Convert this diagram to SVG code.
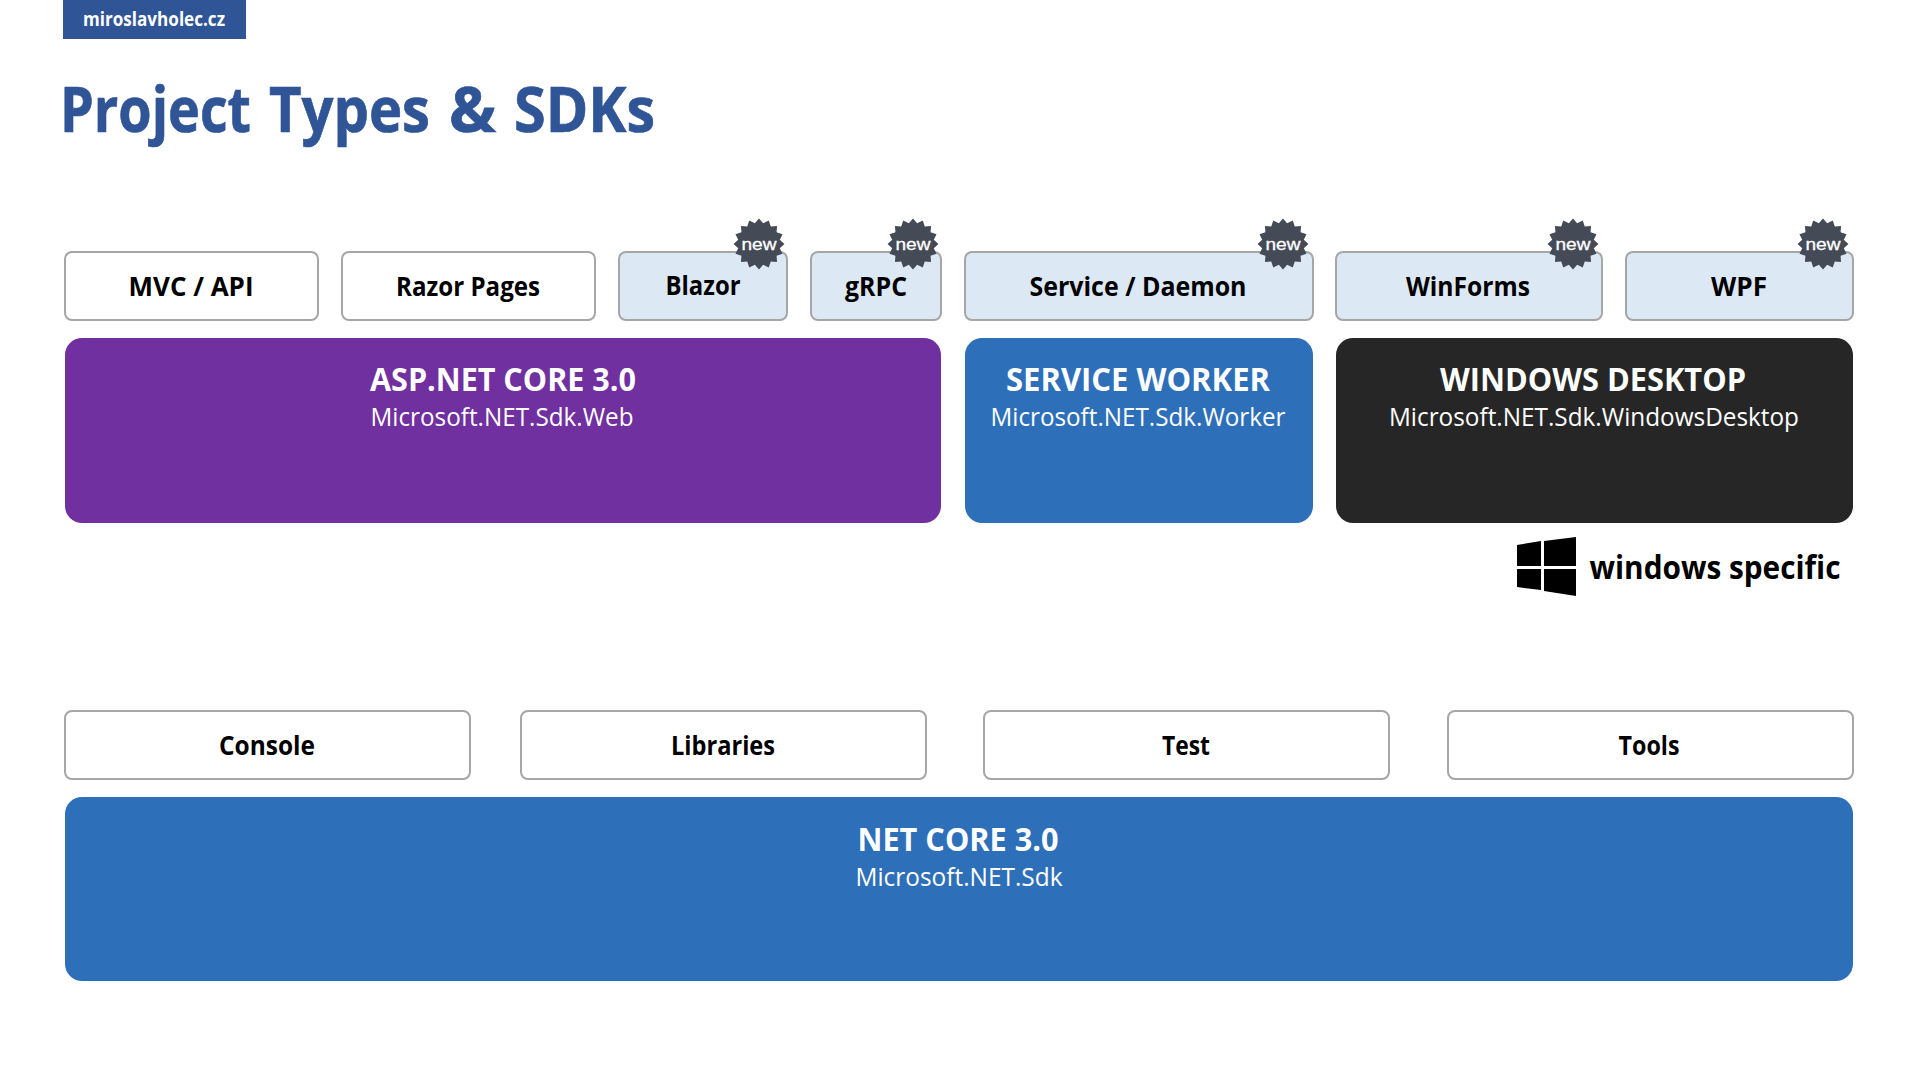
<svg xmlns="http://www.w3.org/2000/svg" width="1920" height="1080" viewBox="0 0 1920 1080">
<style>
text{font-family:"Open Sans","Noto Sans",sans-serif;font-weight:700;text-anchor:middle}
.b{fill:#fff;stroke:#a6a6a6;stroke-width:2}
.n{fill:#dde8f5;stroke:#a6a6a6;stroke-width:2}
.l{font-size:27px;fill:#000}
.s{font-size:27px;fill:#000}
.h{font-size:33px;fill:#fff}
.u{font-size:26px;fill:#fff;font-weight:500}
.w{font-size:17px;fill:#fff;stroke:#fff;stroke-width:.3;font-weight:400;font-family:"Liberation Sans",sans-serif}
.st{fill:#454a57}
.t{font-size:62px;fill:#2f5597;stroke:#2f5597;stroke-width:.7;text-anchor:start}
</style>
<defs>
<polygon id="star" class="st" transform="scale(1.06)" points="24,0 19.6,3.9 22.2,9.2 16.6,11.1 17,17 11.1,16.6 9.2,22.2 3.9,19.6 0,24 -3.9,19.6 -9.2,22.2 -11.1,16.6 -17,17 -16.6,11.1 -22.2,9.2 -19.6,3.9 -24,0 -19.6,-3.9 -22.2,-9.2 -16.6,-11.1 -17,-17 -11.1,-16.6 -9.2,-22.2 -3.9,-19.6 0,-24 3.9,-19.6 9.2,-22.2 11.1,-16.6 17,-17 16.6,-11.1 22.2,-9.2 19.6,-3.9"/>
</defs>
<rect width="1920" height="1080" fill="#fff"/>
<g id="header"><rect x="63" y="0" width="183" height="39" fill="#2f5597"/>
<text x="154" y="26" font-size="20" fill="#fff" textLength="142" lengthAdjust="spacingAndGlyphs">miroslavholec.cz</text></g>
<g id="title"><text class="t" y="132"><tspan x="60" textLength="191" lengthAdjust="spacingAndGlyphs">Project</tspan> <tspan x="269" textLength="161" lengthAdjust="spacingAndGlyphs">Types</tspan> <tspan x="449" textLength="47" lengthAdjust="spacingAndGlyphs">&amp;</tspan> <tspan x="514" textLength="141" lengthAdjust="spacingAndGlyphs">SDKs</tspan></text></g>

<g id="mvc"><rect class="b" x="65" y="252" width="253" height="68" rx="7"/><text class="l" x="191" y="296" textLength="125" lengthAdjust="spacingAndGlyphs">MVC / API</text></g>
<g id="razor"><rect class="b" x="342" y="252" width="253" height="68" rx="7"/><text class="l" x="468" y="296" textLength="144" lengthAdjust="spacingAndGlyphs">Razor Pages</text></g>
<g id="blazor"><rect class="n" x="619" y="252" width="168" height="68" rx="7"/><text class="l" x="703" y="295" textLength="75" lengthAdjust="spacingAndGlyphs">Blazor</text></g>
<g id="grpc"><rect class="n" x="811" y="252" width="130" height="68" rx="7"/><text class="l" x="876" y="296" textLength="62" lengthAdjust="spacingAndGlyphs">gRPC</text></g>
<g id="service"><rect class="n" x="965" y="252" width="348" height="68" rx="7"/><text class="l" x="1138" y="296" textLength="217" lengthAdjust="spacingAndGlyphs">Service / Daemon</text></g>
<g id="winforms"><rect class="n" x="1336" y="252" width="266" height="68" rx="7"/><text class="l" x="1468" y="296" textLength="124" lengthAdjust="spacingAndGlyphs">WinForms</text></g>
<g id="wpf"><rect class="n" x="1626" y="252" width="227" height="68" rx="7"/><text class="l" x="1739" y="296" textLength="56" lengthAdjust="spacingAndGlyphs">WPF</text></g>

<g id="badges">
<use href="#star" x="759" y="244"/><use href="#star" x="913" y="244"/><use href="#star" x="1283" y="244"/><use href="#star" x="1573" y="244"/><use href="#star" x="1823" y="244"/>
<text class="w" x="759" y="250" textLength="35" lengthAdjust="spacingAndGlyphs">new</text>
<text class="w" x="913" y="250" textLength="35" lengthAdjust="spacingAndGlyphs">new</text>
<text class="w" x="1283" y="250" textLength="35" lengthAdjust="spacingAndGlyphs">new</text>
<text class="w" x="1573" y="250" textLength="35" lengthAdjust="spacingAndGlyphs">new</text>
<text class="w" x="1823" y="250" textLength="35" lengthAdjust="spacingAndGlyphs">new</text>
</g>

<g id="aspnet"><rect x="65" y="338" width="876" height="185" rx="17" fill="#7030a0"/>
<text class="h" x="503" y="391" textLength="266" lengthAdjust="spacingAndGlyphs">ASP.NET CORE 3.0</text>
<text class="u" x="502" y="426" textLength="263" lengthAdjust="spacingAndGlyphs">Microsoft.NET.Sdk.Web</text></g>
<g id="worker"><rect x="965" y="338" width="348" height="185" rx="17" fill="#2e6fba"/>
<text class="h" x="1138" y="391" textLength="264" lengthAdjust="spacingAndGlyphs">SERVICE WORKER</text>
<text class="u" x="1138" y="426" textLength="295" lengthAdjust="spacingAndGlyphs">Microsoft.NET.Sdk.Worker</text></g>
<g id="desktop"><rect x="1336" y="338" width="517" height="185" rx="17" fill="#262626"/>
<text class="h" x="1593" y="391" textLength="306" lengthAdjust="spacingAndGlyphs">WINDOWS DESKTOP</text>
<text class="u" x="1594" y="426" textLength="410" lengthAdjust="spacingAndGlyphs">Microsoft.NET.Sdk.WindowsDesktop</text></g>

<g id="windows-specific">
<polygon points="1517,545 1541,541 1541,566 1517,566" fill="#000"/>
<polygon points="1544,541 1576,537 1576,566 1544,566" fill="#000"/>
<polygon points="1517,569 1541,569 1541,590 1517,587" fill="#000"/>
<polygon points="1544,569 1576,569 1576,596 1544,591" fill="#000"/>
<text x="1715" y="579" font-size="33" fill="#000" textLength="251" lengthAdjust="spacingAndGlyphs">windows specific</text></g>

<g id="console"><rect class="b" x="65" y="711" width="405" height="68" rx="7"/><text class="s" x="267" y="755" textLength="96" lengthAdjust="spacingAndGlyphs">Console</text></g>
<g id="libraries"><rect class="b" x="521" y="711" width="405" height="68" rx="7"/><text class="s" x="723" y="755" textLength="104" lengthAdjust="spacingAndGlyphs">Libraries</text></g>
<g id="test"><rect class="b" x="984" y="711" width="405" height="68" rx="7"/><text class="s" x="1186" y="755" textLength="48" lengthAdjust="spacingAndGlyphs">Test</text></g>
<g id="tools"><rect class="b" x="1448" y="711" width="405" height="68" rx="7"/><text class="s" x="1649" y="755" textLength="61" lengthAdjust="spacingAndGlyphs">Tools</text></g>

<g id="netcore"><rect x="65" y="797" width="1788" height="184" rx="17" fill="#2e6fba"/>
<text class="h" x="958" y="851" textLength="201" lengthAdjust="spacingAndGlyphs">NET CORE 3.0</text>
<text class="u" x="959" y="886" textLength="207" lengthAdjust="spacingAndGlyphs">Microsoft.NET.Sdk</text></g>
<g id="connectors"></g>
</svg>
